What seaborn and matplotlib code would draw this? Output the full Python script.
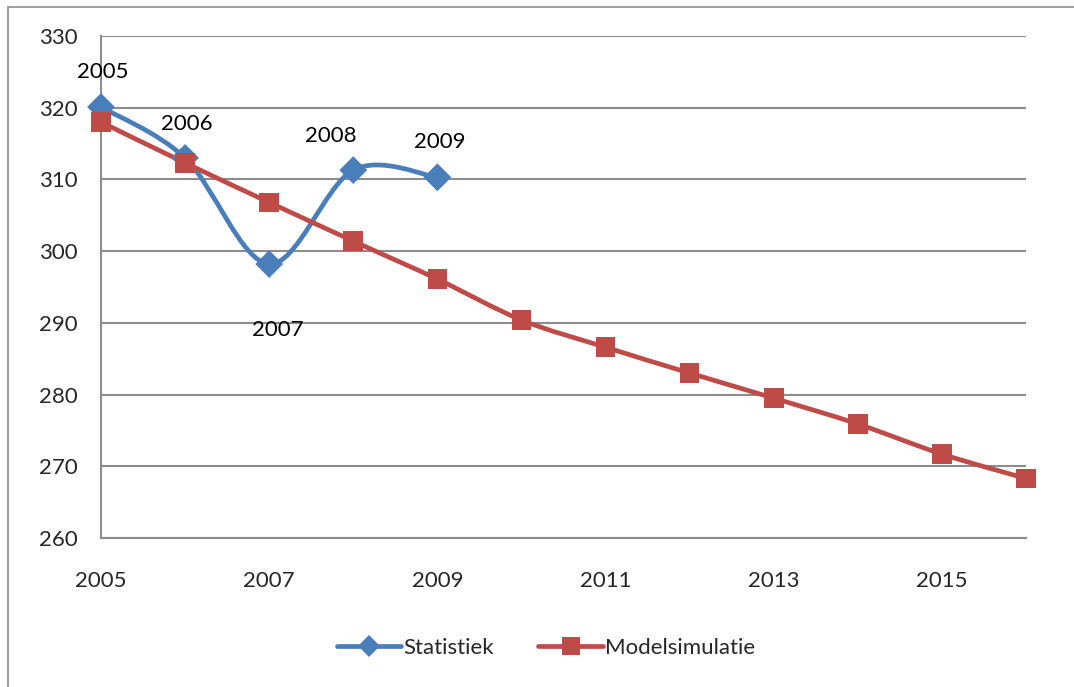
import numpy as np
import pandas as pd
import seaborn as sns
import matplotlib.pyplot as plt
from matplotlib.path import Path
from matplotlib.patches import PathPatch, Rectangle
from matplotlib.lines import Line2D

stat_years = [2005, 2006, 2007, 2008, 2009]
stat_values = [320.1, 313.0, 298.2, 311.3, 310.3]

model_years = list(range(2005, 2017))
model_values = [318.0, 312.3, 306.8, 301.4, 296.1, 290.4, 286.6, 283.0, 279.5, 275.9, 271.7, 268.3]

series_names = ['Statistiek', 'Modelsimulatie']
colors = {'Statistiek': '#4A7EBB', 'Modelsimulatie': '#BE4B48'}
markers = {'Statistiek': 'D', 'Modelsimulatie': 's'}

# data-label offsets in pixels (hand placed in the original)
label_offsets = [(2, 35), (2, 34), (9, -66), (-22, 34), (2, 35)]

sns.set_style('white')
plt.rcParams['font.family'] = ['Lato', 'DejaVu Sans']

grid_c = '#8C8C8C'


def smooth_path(xs, ys):
    # excel-like smoothed line: cubic bezier with catmull-rom control points
    pts = np.column_stack([xs, ys]).astype(float)
    n = len(pts)
    verts = [pts[0]]
    codes = [Path.MOVETO]
    for i in range(n - 1):
        p0 = pts[i - 1] if i > 0 else pts[i]
        p1, p2 = pts[i], pts[i + 1]
        p3 = pts[i + 2] if i + 2 < n else pts[i + 1]
        c1 = p1 + (p2 - p0) / 6
        c2 = p2 - (p3 - p1) / 6
        verts += [c1, c2, p2]
        codes += [Path.CURVE4] * 3
    return Path(verts, codes)


df = pd.concat([
    pd.DataFrame({'year': stat_years, 'value': stat_values, 'series': 'Statistiek'}),
    pd.DataFrame({'year': model_years, 'value': model_values, 'series': 'Modelsimulatie'}),
])

fig = plt.figure(figsize=(10.74, 6.87), dpi=100)
ax = fig.add_axes([101 / 1074, 1 - 538 / 687, 925 / 1074, 502 / 687])

for name, xs, ys in [('Statistiek', stat_years, stat_values),
                     ('Modelsimulatie', model_years, model_values)]:
    ax.add_patch(PathPatch(smooth_path(xs, ys), fill=False, edgecolor=colors[name],
                           lw=3.4, capstyle='round', joinstyle='round', clip_on=False, zorder=3))

sns.scatterplot(data=df, x='year', y='value', hue='series', style='series',
                palette=colors, markers=markers, s=200, edgecolor='none',
                legend=False, ax=ax, zorder=4, clip_on=False)

for yr, v, (dx, dy) in zip(stat_years, stat_values, label_offsets):
    ax.annotate(str(yr), (yr, v), xytext=(dx, dy), textcoords='offset pixels',
                ha='center', va='center', fontsize=16, color='black')

ax.set_xlim(2005, 2016)
ax.set_ylim(260, 330)
ax.set_xticks(range(2005, 2016, 2))
ax.set_yticks(range(260, 331, 10))
ax.set_xlabel('')
ax.set_ylabel('')
ax.grid(axis='y', color=grid_c, lw=1.5)
ax.set_axisbelow(True)
for s in ['top', 'right']:
    ax.spines[s].set_visible(False)
for s in ['left', 'bottom']:
    ax.spines[s].set_color(grid_c)
    ax.spines[s].set_linewidth(1.5)
ax.tick_params(axis='both', which='both', direction='out', length=5, width=1.2,
               color=grid_c, labelsize=16)
ax.tick_params(axis='y', pad=12)
ax.tick_params(axis='x', pad=19)

handles = [Line2D([], [], color=colors[n], lw=3.4, marker=markers[n],
                  markersize=11 if n == 'Statistiek' else 13, markeredgewidth=0)
           for n in series_names]
fig.legend(handles, series_names, loc='center', bbox_to_anchor=(546 / 1074, 1 - 648 / 687),
           ncol=2, frameon=False, fontsize=16, handlelength=2.9, handletextpad=0.1,
           columnspacing=2.0)

fig.add_artist(Rectangle((8 / 1074, -0.1), 1.0, 1.1 - 7 / 687, transform=fig.transFigure,
                         fill=False, edgecolor=grid_c, lw=1.2))

fig.savefig('out.png', dpi=100)
